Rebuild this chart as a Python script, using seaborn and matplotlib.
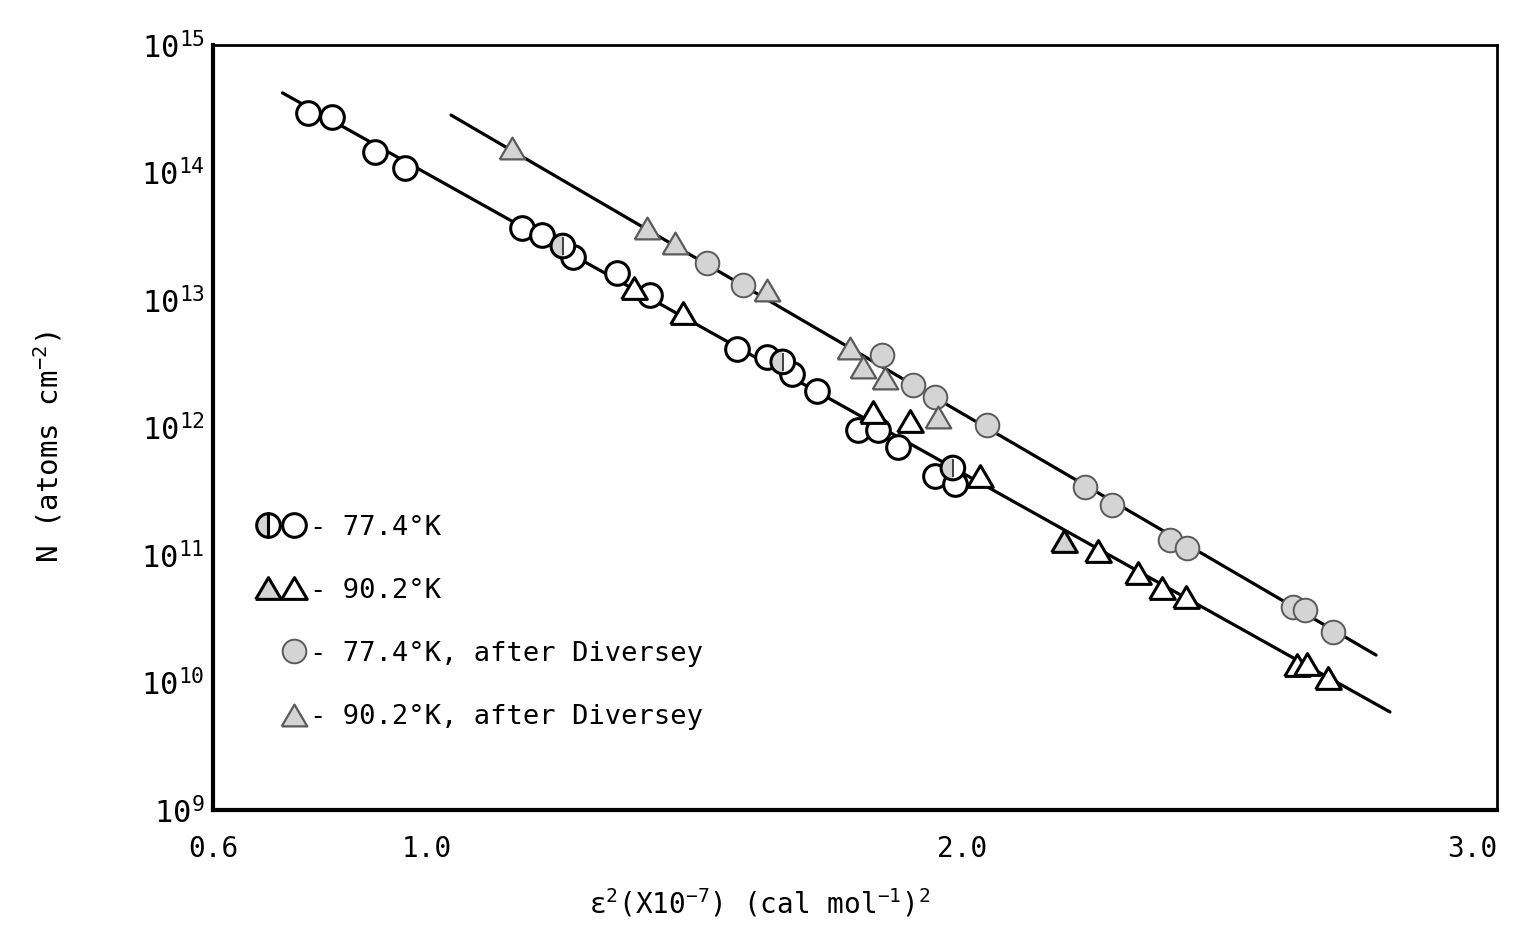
import numpy as np
import matplotlib
matplotlib.use("Agg")
import matplotlib.pyplot as plt
import seaborn as sns
from matplotlib.legend_handler import HandlerTuple
from matplotlib.lines import Line2D
from matplotlib.markers import MarkerStyle
from matplotlib.ticker import FixedLocator, FixedFormatter

# ---------------- data ----------------
# 77.4 K, open circles
open_circ_x = [0.778, 0.822, 0.903, 0.959, 1.178, 1.215, 1.273, 1.355, 1.417,
               1.579, 1.636, 1.682, 1.729, 1.806, 1.843, 1.880, 1.950, 1.987]
open_circ_N = [2.93e14, 2.72e14, 1.45e14, 1.08e14, 3.67e13, 3.24e13, 2.17e13, 1.63e13, 1.09e13,
               4.13e12, 3.57e12, 2.63e12, 1.93e12, 9.55e11, 9.55e11, 7.03e11, 4.17e11, 3.61e11]
# 77.4 K, half shaded circles
half_circ_x = [1.254, 1.665, 1.983]
half_circ_N = [2.65e13, 3.27e12, 4.81e11]
# 90.2 K, open triangles
open_tri_x = [1.387, 1.479, 1.834, 1.903, 2.034, 2.254, 2.329, 2.374, 2.419, 2.626, 2.645, 2.684]
open_tri_N = [1.24e13, 7.9e12, 1.32e12, 1.12e12, 4.17e11, 1.07e11, 7.2e10, 5.5e10, 4.7e10,
              1.37e10, 1.40e10, 1.08e10]
# 90.2 K, shaded triangles
shade_tri_x = [2.191]
shade_tri_N = [1.29e11]
# 77.4 K after Diversey (shaded circles)
div_circ_x = [1.523, 1.591, 1.850, 1.908, 1.950, 2.047, 2.230, 2.280, 2.389, 2.421, 2.619, 2.641, 2.693]
div_circ_N = [1.95e13, 1.31e13, 3.7e12, 2.15e12, 1.73e12, 1.05e12, 3.4e11, 2.47e11, 1.31e11,
              1.14e11, 3.9e10, 3.7e10, 2.49e10]
# 90.2 K after Diversey (shaded triangles)
div_tri_x = [1.159, 1.411, 1.464, 1.636, 1.791, 1.815, 1.856, 1.955]
div_tri_N = [1.56e14, 3.67e13, 2.8e13, 1.2e13, 4.2e12, 2.99e12, 2.44e12, 1.21e12]
# fitted straight lines (end points)
lower_fit_x = [0.73, 2.80]
lower_fit_N = [4.21e14, 5.87e9]
upper_fit_x = [1.045, 2.774]
upper_fit_N = [2.82e14, 1.64e10]

xtick_vals = [0.6, 1.0, 2.0, 3.0]
xtick_labels = ["0.6", "1.0", "2.0", "3.0"]
ytick_vals = [1e9, 1e10, 1e11, 1e12, 1e13, 1e14, 1e15]
ytick_labels = ["$10^{9}$", "$10^{10}$", "$10^{11}$", "$10^{12}$", "$10^{13}$", "$10^{14}$", "$10^{15}$"]
legend_labels = ["- 77.4°K", "- 90.2°K", "- 77.4°K, after Diversey", "- 90.2°K, after Diversey"]

# ---------------- style ----------------
sns.set_theme(style="white")
plt.rcParams['font.family'] = ['DejaVu Sans Mono', 'DejaVu Sans']
plt.rcParams['mathtext.default'] = 'regular'
plt.rcParams['text.color'] = 'black'

SHADE = '#d4d4d4'
SHADE_EDGE = '#5a5a5a'
CIRC_S = 290
TRI_S = 340
tri = MarkerStyle([(-1, -0.85), (1, -0.85), (0, 0.85), (-1, -0.85)])

fig, ax = plt.subplots(figsize=(15.17, 9.26), dpi=100)
fig.subplots_adjust(left=0.1404, right=0.9868, top=0.9514, bottom=0.1253)
ax.set_yscale('log')

sns.lineplot(x=lower_fit_x, y=lower_fit_N, ax=ax, color='black', lw=2.3, zorder=1)
sns.lineplot(x=upper_fit_x, y=upper_fit_N, ax=ax, color='black', lw=2.3, zorder=1)

sns.scatterplot(x=open_circ_x, y=open_circ_N, ax=ax, marker='o', s=CIRC_S,
                facecolor='white', edgecolor='black', linewidth=2.2, zorder=3)
# half shaded circles: left half grey, full outline, central stroke
ax.scatter(half_circ_x, half_circ_N, marker=MarkerStyle('o', fillstyle='left'), s=CIRC_S,
           color=SHADE, edgecolor='none', zorder=4)
ax.scatter(half_circ_x, half_circ_N, marker=MarkerStyle('o', fillstyle='right'), s=CIRC_S,
           color='white', edgecolor='none', zorder=4)
sns.scatterplot(x=half_circ_x, y=half_circ_N, ax=ax, marker='o', s=CIRC_S,
                facecolor='none', edgecolor='black', linewidth=2.2, zorder=5)
sns.scatterplot(x=half_circ_x, y=half_circ_N, ax=ax, marker='|', s=CIRC_S * 0.6,
                color='#333333', linewidth=1.3, zorder=5)

sns.scatterplot(x=open_tri_x, y=open_tri_N, ax=ax, marker=tri, s=TRI_S,
                facecolor='white', edgecolor='black', linewidth=2.2, zorder=3)
sns.scatterplot(x=shade_tri_x, y=shade_tri_N, ax=ax, marker=tri, s=TRI_S,
                facecolor=SHADE, edgecolor='black', linewidth=2.2, zorder=3)
sns.scatterplot(x=div_circ_x, y=div_circ_N, ax=ax, marker='o', s=CIRC_S,
                facecolor=SHADE, edgecolor=SHADE_EDGE, linewidth=1.4, zorder=3)
sns.scatterplot(x=div_tri_x, y=div_tri_N, ax=ax, marker=tri, s=TRI_S,
                facecolor=SHADE, edgecolor=SHADE_EDGE, linewidth=1.6, zorder=3)

# ---------------- axes ----------------
ax.set_xlim(0.6, 3.0)
ax.set_ylim(1e9, 1e15)
ax.xaxis.set_major_locator(FixedLocator(xtick_vals))
ax.xaxis.set_major_formatter(FixedFormatter(xtick_labels))
ax.yaxis.set_major_locator(FixedLocator(ytick_vals))
ax.yaxis.set_major_formatter(FixedFormatter(ytick_labels))
ax.yaxis.set_minor_locator(FixedLocator([]))
ax.tick_params(axis='both', which='major', direction='in', length=12, width=2,
               colors='black')
ax.tick_params(axis='x', pad=18, labelsize=20)
ax.tick_params(axis='y', pad=6, labelsize=22)
for side, lw in [('left', 3.0), ('bottom', 3.0), ('top', 2.0), ('right', 2.0)]:
    ax.spines[side].set_visible(True)
    ax.spines[side].set_color('black')
    ax.spines[side].set_linewidth(lw)

fig.canvas.draw()
xt = ax.get_xticklabels()
xt[-1].set_horizontalalignment('right')
xt[-1].set_x(3.0)

ax.set_ylabel('N (atoms cm$^{-2}$)', fontsize=21, color='black')
ax.yaxis.set_label_coords(-0.116, 0.4745)
ax.set_xlabel('ε$^{2}$(X10$^{-7}$) (cal mol$^{-1}$)$^{2}$', fontsize=20, color='black')
ax.xaxis.set_label_coords(0.426, -0.100)

# ---------------- legend ----------------
ms = np.sqrt(CIRC_S)
mt = np.sqrt(TRI_S)
h_half = Line2D([], [], ls='none', marker='o', markersize=ms, fillstyle='left',
                markerfacecolor=SHADE, markerfacecoloralt='white', markeredgecolor='black',
                markeredgewidth=2.2)
h_open = Line2D([], [], ls='none', marker='o', markersize=ms, markerfacecolor='white',
                markeredgecolor='black', markeredgewidth=2.2)
h_shtri = Line2D([], [], ls='none', marker=tri, markersize=mt, markerfacecolor=SHADE,
                 markeredgecolor='black', markeredgewidth=2.2)
h_optri = Line2D([], [], ls='none', marker=tri, markersize=mt, markerfacecolor='white',
                 markeredgecolor='black', markeredgewidth=2.2)
h_blank = Line2D([], [], ls='none', marker='o', markersize=ms, alpha=0)
h_dcirc = Line2D([], [], ls='none', marker='o', markersize=ms, markerfacecolor=SHADE,
                 markeredgecolor=SHADE_EDGE, markeredgewidth=1.4)
h_dtri = Line2D([], [], ls='none', marker=tri, markersize=mt, markerfacecolor=SHADE,
                markeredgecolor=SHADE_EDGE, markeredgewidth=1.6)

leg = ax.legend([(h_half, h_open), (h_shtri, h_optri), (h_blank, h_dcirc), (h_blank, h_dtri)],
                legend_labels, handler_map={tuple: HandlerTuple(ndivide=None, pad=0)},
                loc='upper left', bbox_to_anchor=(0.033, 0.386), frameon=False,
                fontsize=19.5, handlelength=1.9, handletextpad=0.1, labelspacing=1.37,
                borderpad=0, borderaxespad=0)
for t in leg.get_texts():
    t.set_color('black')

fig.savefig('out.png', dpi=100, facecolor='white')
